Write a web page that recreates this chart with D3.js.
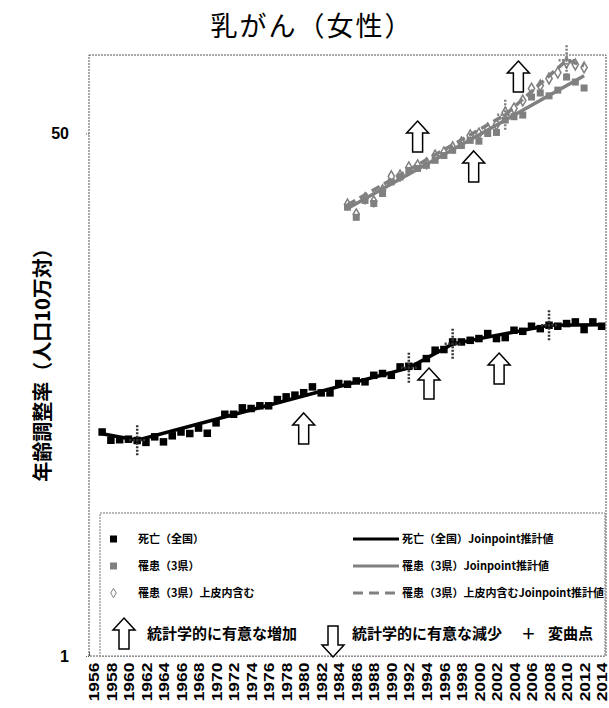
<!DOCTYPE html>
<html>
<head>
<meta charset="utf-8">
<script src="https://cdn.jsdelivr.net/npm/d3@7"></script>
<style>
  body { margin: 0; background: #fff; }
  svg { display: block; }
  text { font-family: "Noto Sans CJK JP", "Liberation Sans", sans-serif; }
</style>
</head>
<body>
<svg id="chart" width="609" height="708"></svg>
<script>
// ---- data ----
const xLabels = ['1956','1958','1960','1962','1964','1966','1968','1970','1972','1974','1976','1978','1980',
  '1982','1984','1986','1988','1990','1992','1994','1996','1998','2000','2002','2004','2006','2008','2010','2012','2014'];
const yTicks = [1, 50];

// 死亡(全国) 1957-2014
const deathStart = 1957;
const deathRate = [5.35,5.03,5.05,5.07,5.02,4.95,5.16,4.97,5.20,5.35,
  5.29,5.51,5.30,5.73,6.11,6.11,6.41,6.38,6.51,6.51,
  6.82,6.96,7.05,7.18,7.50,7.17,7.17,7.69,7.65,7.84,
  7.79,8.18,8.29,8.18,8.71,8.75,8.75,9.27,9.87,9.92,
  10.50,10.50,10.63,10.77,11.18,10.77,10.85,11.46,11.37,11.81,
  11.60,11.90,11.81,12.05,12.20,11.52,12.20,11.81];

// 罹患(3県) 1985-2012
const incStart = 1985;
const incRate = [28.8,26.7,30.3,29.6,31.9,34.8,36.1,37.9,38.5,39.4,
  40.9,42.4,44.1,45.7,47.5,47.2,50.0,50.4,55.3,56.7,
  57.4,65.7,67.7,66.3,69.2,76.3,73.5,70.3];
// 罹患(3県)上皮内含む 1985-2012
const insituRate = [29.4,27.3,30.8,30.1,32.7,36.3,36.5,38.8,39.4,40.0,
  42.4,43.4,45.1,46.8,49.3,50.0,51.9,53.5,58.5,60.3,
  64.0,70.0,71.6,75.5,78.9,85.1,83.8,82.0];

// Joinpoint fitted values at the joinpoints
const deathFitYears = [1957, 1961, 1992, 1997, 2008, 2014];
const deathFit = [5.28, 5.03, 8.65, 10.35, 11.9, 11.95];
const incFitYears = [1985, 2012];
const incFit = [28.5, 77.0];
const insituFitYears = [1985, 2003, 2010, 2012];
const insituFit = [29.3, 57.5, 86.5, 83.0];

// change points (変曲点)
const deathJoins = [1961, 1992, 1997, 2008];
const insituJoins = [2003, 2010];

// significant increase arrows: year and value at the arrow tip
const arrowYears = [1980, 1994.3, 2002.3, 1999.4, 1993.0, 2004.5];
const arrowValues = [6.17, 8.64, 9.66, 43.9, 54.9, 86.0];

const GRAY = '#808080';

// ---- scales ----
const svg = d3.select('#chart');
const plotL = 89, plotR = 606, plotT = 55, plotB = 656;
const x = d3.scaleLinear().domain([1955.5, 2014.5]).range([plotL, plotR]);
const y = d3.scaleLog().domain([1, 90]).range([plotB, plotT]);

// title
svg.append('text')
  .attr('x', 312).attr('y', 36)
  .attr('text-anchor', 'middle')
  .style('font-size', '27px').style('letter-spacing', '2px')
  .text('乳がん（女性）');

// y label
svg.append('text')
  .attr('transform', 'translate(50,360) rotate(-90)')
  .attr('text-anchor', 'middle')
  .style('font-size', '20px').style('font-weight', 'bold')
  .text('年齢調整率（人口10万対）');

// plot frame
svg.append('rect')
  .attr('x', plotL).attr('y', plotT)
  .attr('width', plotR - plotL).attr('height', plotB - plotT)
  .attr('fill', 'none').attr('stroke', '#555')
  .attr('stroke-width', 1).attr('stroke-dasharray', '2,1');

// y axis
const yAxis = svg.append('g')
  .attr('transform', `translate(${plotL},0)`)
  .call(d3.axisLeft(y).tickValues(yTicks).tickFormat(d3.format('d')).tickSize(4).tickPadding(16));
yAxis.select('.domain').remove();
yAxis.selectAll('line').attr('stroke', '#555').attr('stroke-dasharray', '1,1');
yAxis.selectAll('text')
  .style('font-family', '"Liberation Sans", Arial, sans-serif')
  .style('font-size', '16px').style('font-weight', 'bold').attr('fill', '#000');

// x axis labels
const xAxis = svg.append('g')
  .attr('transform', `translate(0,${plotB})`)
  .call(d3.axisBottom(x).tickValues(xLabels.map(Number)).tickFormat(d3.format('d')).tickSize(0));
xAxis.select('.domain').remove();
xAxis.selectAll('text')
  .attr('transform', 'rotate(-90) scale(1.12,1)')
  .attr('x', -6).attr('y', 0).attr('dy', '0.33em')
  .style('text-anchor', 'end')
  .style('font-family', '"Liberation Sans", Arial, sans-serif')
  .style('font-size', '15.5px').style('font-weight', 'bold').attr('fill', '#000');

// small x tick marks
const xTicks = svg.append('g')
  .attr('transform', `translate(0,${plotB})`)
  .call(d3.axisBottom(x).tickValues(xLabels.map(d => +d - 0.5)).tickFormat('').tickSize(-4));
xTicks.select('.domain').remove();
xTicks.selectAll('line').attr('stroke', '#555');

// ---- series ----
const line = d3.line().x(d => x(d[0])).y(d => y(d[1]));

const deathPts = deathRate.map((v, i) => [deathStart + i, v]);
const incPts = incRate.map((v, i) => [incStart + i, v]);
const insituPts = insituRate.map((v, i) => [incStart + i, v]);

const diamond = d3.symbol().type(d3.symbolDiamond).size(34);

// in situ diamonds
svg.append('g').selectAll('path')
  .data(insituPts).enter().append('path')
    .attr('d', diamond)
    .attr('transform', d => `translate(${x(d[0])},${y(d[1])})`)
    .attr('fill', '#fff').attr('stroke', GRAY).attr('stroke-width', 1.5);

// incidence squares
svg.append('g').selectAll('rect')
  .data(incPts).enter().append('rect')
    .attr('x', d => x(d[0]) - 3.5).attr('y', d => y(d[1]) - 3.5)
    .attr('width', 7).attr('height', 7)
    .attr('fill', GRAY);

// death squares
svg.append('g').selectAll('rect')
  .data(deathPts).enter().append('rect')
    .attr('x', d => x(d[0]) - 3.75).attr('y', d => y(d[1]) - 3.75)
    .attr('width', 7.5).attr('height', 7.5)
    .attr('fill', '#000');

// fitted lines
svg.append('path')
  .datum(insituFitYears.map((yr, i) => [yr, insituFit[i]]))
  .attr('d', line).attr('fill', 'none')
  .attr('stroke', GRAY).attr('stroke-width', 3.5).attr('stroke-dasharray', '9,5');
svg.append('path')
  .datum(incFitYears.map((yr, i) => [yr, incFit[i]]))
  .attr('d', line).attr('fill', 'none')
  .attr('stroke', GRAY).attr('stroke-width', 3.5);
svg.append('path')
  .datum(deathFitYears.map((yr, i) => [yr, deathFit[i]]))
  .attr('d', line).attr('fill', 'none')
  .attr('stroke', '#000').attr('stroke-width', 3.5);

// change point crosses
function fitAt(years, vals, yr) {
  return vals[years.indexOf(yr)];
}
function drawCross(g, cx, cy, color) {
  g.append('line').attr('x1', cx).attr('x2', cx).attr('y1', cy - 15).attr('y2', cy + 15)
    .attr('stroke', color).attr('stroke-width', 2.5).attr('stroke-dasharray', '2,1.5');
  g.append('line').attr('x1', cx - 8).attr('x2', cx + 8).attr('y1', cy).attr('y2', cy)
    .attr('stroke', color).attr('stroke-width', 2.5).attr('stroke-dasharray', '2,1.5');
}
const crosses = svg.append('g');
deathJoins.forEach(yr => drawCross(crosses, x(yr), y(fitAt(deathFitYears, deathFit, yr)), '#333'));
insituJoins.forEach(yr => drawCross(crosses, x(yr), y(fitAt(insituFitYears, insituFit, yr)), GRAY));

// arrows
function upArrow(cx, ty) {
  return `M${cx},${ty} L${cx + 11},${ty + 12} L${cx + 5},${ty + 12} L${cx + 5},${ty + 31}
    L${cx - 5},${ty + 31} L${cx - 5},${ty + 12} L${cx - 11},${ty + 12} Z`;
}
function downArrow(cx, by) {
  return `M${cx},${by} L${cx + 11},${by - 12} L${cx + 5},${by - 12} L${cx + 5},${by - 31}
    L${cx - 5},${by - 31} L${cx - 5},${by - 12} L${cx - 11},${by - 12} Z`;
}
svg.append('g').selectAll('path')
  .data(arrowYears.map((yr, i) => [yr, arrowValues[i]]))
  .enter().append('path')
    .attr('d', d => upArrow(x(d[0]), y(d[1])))
    .attr('fill', '#fff').attr('stroke', '#000').attr('stroke-width', 1.5);

// ---- legend ----
const lg = svg.append('g');
lg.append('rect')
  .attr('x', 100).attr('y', 513).attr('width', 505).attr('height', plotB - 513)
  .attr('fill', '#fff').attr('stroke', '#777').attr('stroke-dasharray', '2,1');

const rows = [
  { y: 539, label: '死亡（全国）', fit: '死亡（全国）Joinpoint推計値' },
  { y: 566, label: '罹患（3県）', fit: '罹患（3県）Joinpoint推計値' },
  { y: 593, label: '罹患（3県）上皮内含む', fit: '罹患（3県）上皮内含むJoinpoint推計値' }
];
lg.append('rect').attr('x', 110).attr('y', rows[0].y - 3.5).attr('width', 7).attr('height', 7).attr('fill', '#000');
lg.append('rect').attr('x', 110).attr('y', rows[1].y - 3.5).attr('width', 7).attr('height', 7).attr('fill', GRAY);
lg.append('path').attr('d', d3.symbol().type(d3.symbolDiamond).size(26))
  .attr('transform', `translate(113.5,${rows[2].y})`)
  .attr('fill', '#fff').attr('stroke', GRAY).attr('stroke-width', 1);

lg.append('line').attr('x1', 353).attr('x2', 399).attr('y1', rows[0].y).attr('y2', rows[0].y)
  .attr('stroke', '#000').attr('stroke-width', 3);
lg.append('line').attr('x1', 353).attr('x2', 399).attr('y1', rows[1].y).attr('y2', rows[1].y)
  .attr('stroke', GRAY).attr('stroke-width', 3);
lg.append('line').attr('x1', 353).attr('x2', 399).attr('y1', rows[2].y).attr('y2', rows[2].y)
  .attr('stroke', GRAY).attr('stroke-width', 3).attr('stroke-dasharray', '10,6');

rows.forEach(r => {
  lg.append('text').attr('x', 138).attr('y', r.y).attr('dy', '0.36em')
    .style('font-size', '11px').style('font-weight', 'bold').text(r.label);
  lg.append('text').attr('x', 402).attr('y', r.y).attr('dy', '0.36em')
    .style('font-size', '11px').style('font-weight', 'bold').text(r.fit);
});

lg.append('path').attr('d', upArrow(124, 618)).attr('fill', '#fff').attr('stroke', '#000').attr('stroke-width', 1.5);
lg.append('text').attr('x', 147).attr('y', 634).attr('dy', '0.36em')
  .style('font-size', '15px').style('font-weight', 'bold').text('統計学的に有意な増加');
lg.append('path').attr('d', downArrow(333, 657)).attr('fill', '#fff').attr('stroke', '#000').attr('stroke-width', 1.5);
lg.append('text').attr('x', 352).attr('y', 634).attr('dy', '0.36em')
  .style('font-size', '15px').style('font-weight', 'bold').text('統計学的に有意な減少');
lg.append('text').attr('x', 521).attr('y', 634).attr('dy', '0.36em')
  .style('font-size', '15px').style('font-weight', 'bold').text('＋');
lg.append('text').attr('x', 548).attr('y', 634).attr('dy', '0.36em')
  .style('font-size', '15px').style('font-weight', 'bold').text('変曲点');
</script>
</body>
</html>
